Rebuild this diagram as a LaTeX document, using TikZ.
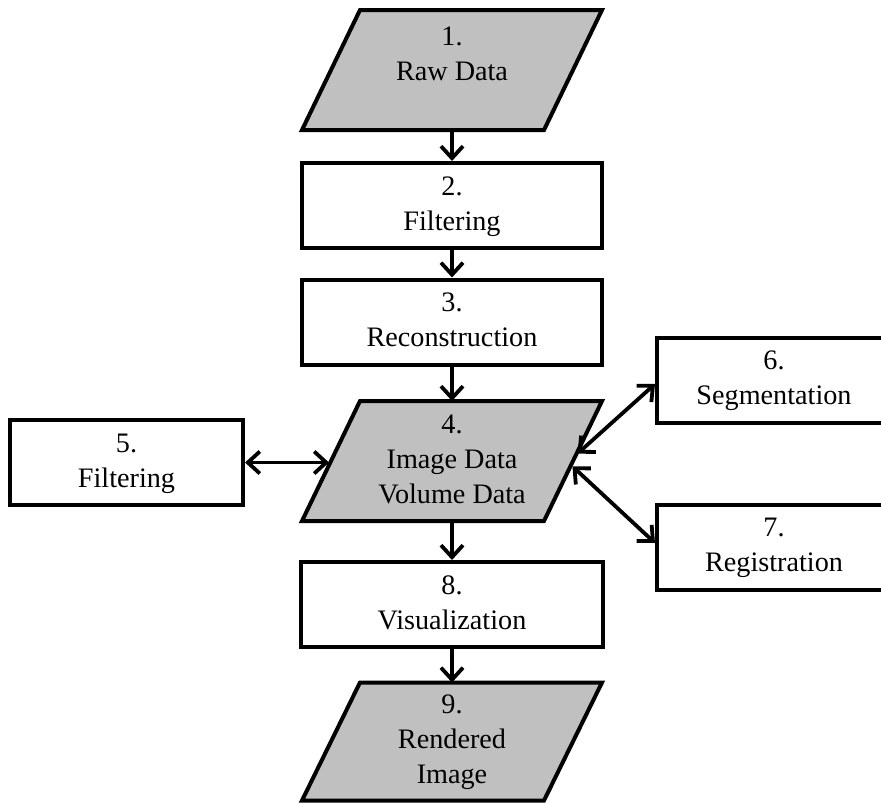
\documentclass[tikz,border=0pt]{standalone}
\usepackage{fontspec}
\setmainfont{Liberation Serif}
\usetikzlibrary{arrows.meta,calc,backgrounds}
\definecolor{boxgray}{HTML}{C0C0C0}
\newcommand\lines[1]{\begin{tabular}{@{}c@{}}#1\end{tabular}}
\begin{document}
\begin{tikzpicture}[x=1pt,y=-1pt,
  every node/.style={font=\fontsize{28.2}{35}\selectfont, inner sep=0pt},
  rbox/.style={draw, line width=4pt, fill=white, minimum width=#1, minimum height=85pt},
  pnode/.style={line width=4pt, minimum width=296pt, minimum height=116pt},
  para/.style={draw, line width=4pt, fill=boxgray, line join=miter},
  tip/.tip={Straight Barb[length=12pt,width=22pt]},
  arr/.style={line width=3.8pt, -tip},
  darr/.style={line width=3.8pt, tip-tip}]
\useasboundingbox (0,0) rectangle (881,803);
\clip (0,0) rectangle (881,803);

% nodes
\node[pnode] (n1) at (452,70) {};
\node (n1t) at (452,55.5) {\lines{1.\\Raw Data}};
\node[rbox=300pt] (n2) at (452,205.5) {\lines{2.\\Filtering}};
\node[rbox=300pt] (n3) at (452,322) {\lines{3.\\Reconstruction}};
\node[pnode] (n4) at (452,461) {\lines{4.\\Image Data\\Volume Data}};
\node[rbox=233pt] (n5) at (126.5,462.5) {\lines{5.\\Filtering}};
\node[rbox=234pt] (n6) at (774,380) {\lines{6.\\Segmentation}};
\node[rbox=234pt] (n7) at (774,547) {\lines{7.\\Registration}};
\node[rbox=302pt] (n8) at (452,604.5) {\lines{8.\\Visualization}};
\node[pnode, minimum height=114pt] (n9) at (452,741.5) {\lines{9.\\Rendered\\Image}};

% parallelogram outlines behind the texts
\begin{scope}[on background layer]
  \fill[white] (0,0) rectangle (881,803);
  \foreach \n in {n1,n4,n9}
    \draw[para] (\n.south west) -- ([xshift=-58pt]\n.south east) -- (\n.north east) -- ([xshift=58pt]\n.north west) -- cycle;
\end{scope}

\coordinate (n4L) at ($(n4.south west)!0.5!([xshift=58pt]n4.north west)$);
\coordinate (n4R) at ($([xshift=-58pt]n4.south east)!0.5!(n4.north east)$);

% connectors
\draw[arr] (n1.south) -- (n2.north);
\draw[arr] (n2.south) -- (n3.north);
\draw[arr] (n3.south) -- (n4.north);
\draw[arr] (n4.south) -- (n8.north);
\draw[arr] (n8.south) -- (n9.north);
\draw[darr, shorten >=2pt] (n5.east) -- (n5.east -| n4L);
\draw[darr, shorten <=2pt] ([shift={(3,-6)}]n4R) -- ([yshift=-4pt]n6.west);
\draw[darr, shorten <=2pt] ([shift={(-2,4)}]n4R) -- ([yshift=4pt]n7.west);
\end{tikzpicture}
\end{document}
